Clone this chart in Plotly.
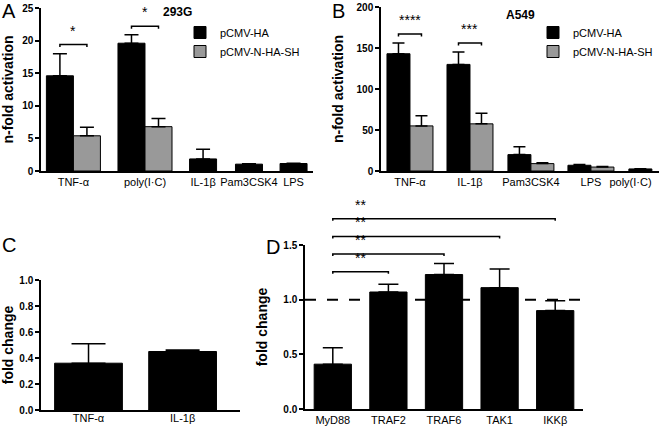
import plotly.graph_objects as go

W, H = 660, 427
FONT = "Liberation Sans, Arial, Helvetica, sans-serif"
BLACK = "#000000"
GREY = "#999999"

# ---------------- data ----------------
# Panel A (293G)
a_labels = ["TNF-α", "poly(I·C)", "IL-1β", "Pam3CSK4", "LPS"]
a_ha = [14.6, 19.6, 1.85, 1.05, 1.15]
a_ha_err = [3.4, 1.3, 1.5, 0.05, 0.05]
a_sh = [5.4, 6.8, None, None, None]
a_sh_err = [1.3, 1.25, None, None, None]
a_sig = ["*", "*", "", "", ""]

# Panel B (A549)
b_labels = ["TNF-α", "IL-1β", "Pam3CSK4", "LPS", "poly(I·C)"]
b_ha = [143, 130, 20, 7, 2.5]
b_ha_err = [13, 15, 9.5, 0.8, 0.3]
b_sh = [55, 57.5, 9, 4.8, None]
b_sh_err = [12.5, 13, 1.2, 0.6, None]
b_sig = ["****", "***", "", "", ""]

# Panel C
c_labels = ["TNF-α", "IL-1β"]
c_vals = [0.36, 0.45]
c_err = [0.15, 0.012]

# Panel D
d_labels = ["MyD88", "TRAF2", "TRAF6", "TAK1", "IKKβ"]
d_vals = [0.41, 1.07, 1.23, 1.11, 0.90]
d_err = [0.15, 0.07, 0.10, 0.17, 0.09]
d_sig = ["", "**", "**", "**", "**"]   # vs MyD88
d_ref = 1.0

series_names = ["pCMV-HA", "pCMV-N-HA-SH"]

# ---------------- layout geometry (pixels) ----------------
PANEL = {
    "A": dict(px=(41, 313), py=(8, 171), xr=(0, 10.07), yr=(0, 25)),
    "B": dict(px=(381, 659), py=(7, 171), xr=(0, 12.09), yr=(0, 200)),
    "C": dict(px=(41, 240), py=(280, 410), xr=(-0.505, 1.61), yr=(0, 1.0)),
    "D": dict(px=(305, 583), py=(245, 409), xr=(-0.5, 4.5), yr=(0, 1.5)),
}
a_slot = [1.2, 3.85, 6.0, 7.7, 9.35]
b_slot = [1.26, 3.87, 6.52, 9.13, 11.78]
b_tick = [1.26, 3.87, 6.52, 9.13, 10.85]
NB = "\u00a0"


def xdom(p):
    x0, x1 = PANEL[p]["px"]
    return [x0 / W, x1 / W]


def ydom(p):
    t, b = PANEL[p]["py"]
    return [1 - b / H, 1 - t / H]


def xp(p, v):
    x0, x1 = PANEL[p]["px"]
    r0, r1 = PANEL[p]["xr"]
    return (x0 + (v - r0) / (r1 - r0) * (x1 - x0)) / W


def yp(p, v):
    t, b = PANEL[p]["py"]
    r0, r1 = PANEL[p]["yr"]
    return 1 - (b - (v - r0) / (r1 - r0) * (b - t)) / H


def pxx(v):
    return v / W


def pxy(v):
    return 1 - v / H


fig = go.Figure()

err_common = dict(type="data", symmetric=False, color=BLACK, thickness=1.5)

# Panel A
a_off_black = [-1 if s is not None else -0.5 for s in a_sh]
fig.add_trace(go.Bar(
    x=a_slot, y=a_ha, width=1, offset=a_off_black, name=series_names[0],
    marker=dict(color=BLACK, line=dict(color=BLACK, width=1)),
    error_y=dict(array=a_ha_err, arrayminus=[0] * len(a_ha), width=7, **err_common),
    xaxis="x", yaxis="y", legend="legend"))
fig.add_trace(go.Bar(
    x=a_slot, y=a_sh, width=1, offset=0, name=series_names[1],
    marker=dict(color=GREY, line=dict(color=BLACK, width=1)),
    error_y=dict(array=a_sh_err, arrayminus=[0] * len(a_sh), width=7, **err_common),
    xaxis="x", yaxis="y", legend="legend"))

# Panel B
fig.add_trace(go.Bar(
    x=b_slot, y=b_ha, width=1, offset=-1, name=series_names[0],
    marker=dict(color=BLACK, line=dict(color=BLACK, width=1)),
    error_y=dict(array=b_ha_err, arrayminus=[0] * len(b_ha), width=6, **err_common),
    xaxis="x2", yaxis="y2", legend="legend2"))
fig.add_trace(go.Bar(
    x=b_slot, y=b_sh, width=1, offset=0, name=series_names[1],
    marker=dict(color=GREY, line=dict(color=BLACK, width=1)),
    error_y=dict(array=b_sh_err, arrayminus=[0] * len(b_sh), width=6, **err_common),
    xaxis="x2", yaxis="y2", legend="legend2"))

# Panel C
fig.add_trace(go.Bar(
    x=c_labels, y=c_vals, width=0.72, showlegend=False,
    marker=dict(color=BLACK, line=dict(color=BLACK, width=1)),
    error_y=dict(array=c_err, arrayminus=[0] * len(c_vals), width=17, **err_common),
    xaxis="x3", yaxis="y3"))

# Panel D
fig.add_trace(go.Bar(
    x=d_labels, y=d_vals, width=0.67, showlegend=False,
    marker=dict(color=BLACK, line=dict(color=BLACK, width=1)),
    error_y=dict(array=d_err, arrayminus=[0] * len(d_vals), width=10, **err_common),
    xaxis="x4", yaxis="y4"))

xbase = dict(showline=True, linecolor=BLACK, linewidth=1.5, ticks="", showgrid=False,
             zeroline=False, fixedrange=True, tickfont=dict(family=FONT, size=11, color=BLACK))
ybase = dict(showline=True, linecolor=BLACK, linewidth=1.5, ticks="outside", ticklen=4,
             tickwidth=1.5, tickcolor=BLACK, showgrid=False, zeroline=False, fixedrange=True,
             tickfont=dict(family=FONT, size=10, color=BLACK, weight="bold"))
ttl = dict(family=FONT, size=14, color=BLACK, weight="bold")

fig.update_layout(
    width=W, height=H, margin=dict(l=0, r=0, t=0, b=0, autoexpand=False),
    paper_bgcolor="white", plot_bgcolor="white", barmode="overlay",
    font=dict(family=FONT, color=BLACK),
    xaxis=dict(xbase, domain=xdom("A"), range=PANEL["A"]["xr"], tickmode="array",
               tickvals=a_slot, ticktext=a_labels, anchor="y"),
    yaxis=dict(ybase, domain=ydom("A"), range=PANEL["A"]["yr"], dtick=5, anchor="x",
               title=dict(text=NB * 7 + "n-fold activation", font=ttl, standoff=10)),
    xaxis2=dict(xbase, domain=xdom("B"), range=PANEL["B"]["xr"], tickmode="array",
                tickvals=b_tick, ticktext=b_labels, anchor="y2"),
    yaxis2=dict(ybase, domain=ydom("B"), range=PANEL["B"]["yr"], dtick=50, anchor="x2",
                title=dict(text=NB * 7 + "n-fold activation", font=ttl, standoff=10)),
    xaxis3=dict(xbase, domain=xdom("C"), range=PANEL["C"]["xr"], anchor="y3",
                ticklabelstandoff=-3),
    yaxis3=dict(ybase, domain=ydom("C"), range=PANEL["C"]["yr"], dtick=0.2,
                tickformat=".1f", anchor="x3",
                title=dict(text="fold change", font=ttl, standoff=6)),
    xaxis4=dict(xbase, domain=xdom("D"), range=PANEL["D"]["xr"], anchor="y4"),
    yaxis4=dict(ybase, domain=ydom("D"), range=PANEL["D"]["yr"], dtick=0.5,
                tickformat=".1f", anchor="x4",
                title=dict(text="fold change" + NB * 2, font=ttl, standoff=12)),
    legend=dict(x=pxx(180), y=pxy(18), xanchor="left", yanchor="top",
                bgcolor="rgba(0,0,0,0)", font=dict(family=FONT, size=11, color=BLACK)),
    legend2=dict(x=pxx(533), y=pxy(18), xanchor="left", yanchor="top",
                 bgcolor="rgba(0,0,0,0)", font=dict(family=FONT, size=11, color=BLACK)),
)

shapes = []
annotations = []

# panel letters
for letter, (x, y) in {"A": (0, 11), "B": (330, 11), "C": (0, 245), "D": (264, 247)}.items():
    annotations.append(dict(text=letter, x=pxx(x), y=pxy(y), xref="paper", yref="paper",
                            xanchor="left", yanchor="middle", showarrow=False,
                            font=dict(family=FONT, size=20, color=BLACK)))

# panel titles
annotations.append(dict(text="293G", x=pxx(177), y=pxy(12), xref="paper", yref="paper",
                        xanchor="center", yanchor="middle", showarrow=False,
                        font=dict(family=FONT, size=12, color=BLACK, weight="bold")))
annotations.append(dict(text="A549", x=pxx(520), y=pxy(15), xref="paper", yref="paper",
                        xanchor="center", yanchor="middle", showarrow=False,
                        font=dict(family=FONT, size=12, color=BLACK, weight="bold")))

star_font = dict(family=FONT, size=14, color=BLACK)


def bracket(p, x0, x1, yv, tick_px=2.5):
    y_ = yp(p, yv)
    dy = tick_px / H
    shapes.append(dict(type="path", xref="paper", yref="paper",
                       path=f"M {xp(p, x0)},{y_ - dy} L {xp(p, x0)},{y_} L {xp(p, x1)},{y_} L {xp(p, x1)},{y_ - dy}",
                       line=dict(color=BLACK, width=1.5)))


def stars(xref, xv, p, yv, s):
    annotations.append(dict(text=s, x=xv, xref=xref, y=yp(p, yv) + 4 / H, yref="paper",
                            xanchor="center", yanchor="bottom",
                            showarrow=False, font=star_font))


# Panel A significance (bracket between the pair of bars)
a_levels = [19.4, 22.2]
for i, s in enumerate(a_sig):
    if s:
        bracket("A", a_slot[i] - 0.5, a_slot[i] + 0.5, a_levels[i])
        stars("x", a_slot[i], "A", a_levels[i], s)

# Panel B significance
b_levels = [167, 156]
for i, s in enumerate(b_sig):
    if s:
        bracket("B", b_slot[i] - 0.5, b_slot[i] + 0.5, b_levels[i])
        stars("x2", b_slot[i], "B", b_levels[i], s)

# Panel D reference line and significance vs MyD88
shapes.append(dict(type="line", xref="x4 domain", x0=0, x1=1, yref="y4", y0=d_ref, y1=d_ref,
                   line=dict(color=BLACK, width=2, dash="11px,11px"), layer="below"))
lvl = 1.256
for i, s in enumerate(d_sig):
    if s:
        bracket("D", 0, i, lvl, tick_px=2)
        stars("x4", 0.5, "D", lvl, s)
        lvl += 0.161

fig.update_layout(shapes=shapes, annotations=annotations)
fig.write_html(
    "out.html",
    config={"displayModeBar": False},
    post_script="document.body.style.margin='0';document.body.style.padding='0';"
                "document.documentElement.style.overflow='hidden';",
)
